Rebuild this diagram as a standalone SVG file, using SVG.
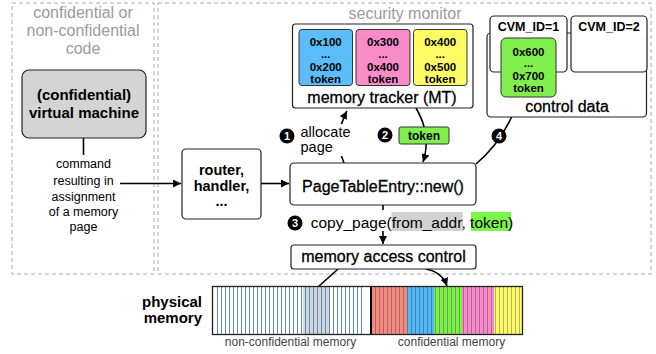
<svg xmlns="http://www.w3.org/2000/svg" width="656" height="354" viewBox="0 0 656 354">
<style>
text{font-family:"Liberation Sans",Arial,sans-serif;fill:#000}
.box{fill:#fff;stroke:#222;stroke-width:1.2}
.dash{fill:none;stroke:#aaa;stroke-width:1;stroke-dasharray:4 3}
.grayt{fill:#9a9a9a;font-size:16px}
.med{font-size:16px;stroke:#000;stroke-width:0.3}
.b{font-weight:bold}
.cell{stroke:#333;stroke-width:1}
.cellt{font-size:11.5px;font-weight:bold;text-anchor:middle}
.num{fill:#000}
.numt{fill:#fff;font-size:11px;font-weight:bold;text-anchor:middle}
.conn{fill:none;stroke:#000;stroke-width:1.6}
.arr{marker-end:url(#ah)}
.mid{text-anchor:middle}
.nstr{fill:none;stroke:#5a8ac6;stroke-width:1}
.cstr{fill:none;stroke:#000;stroke-opacity:0.35;stroke-width:0.8}
</style>
<defs>
<marker id="ah" markerUnits="userSpaceOnUse" markerWidth="9" markerHeight="8" refX="8" refY="4" orient="auto">
<path d="M0,0 L8,4 L0,8 z" fill="#000"/>
</marker>
</defs>
<rect width="656" height="354" fill="#fff"/>

<g id="zones">
<rect class="dash" x="12" y="3" width="142" height="271"/>
<rect class="dash" x="158" y="3" width="493" height="271"/>
<text class="grayt mid" x="83" y="18">confidential or</text>
<text class="grayt mid" x="83" y="36">non-confidential</text>
<text class="grayt mid" x="83" y="54">code</text>
<text class="grayt mid" x="405" y="19" font-size="16.5">security monitor</text>
</g>

<g id="connectors">
<path class="conn" d="M83.5,138 V155"/>
<path class="conn arr" d="M120,183.5 H181"/>
<path class="conn arr" d="M261,183.5 H289"/>
<path class="conn arr" d="M344,163 Q333,137 347,111"/>
<path class="conn arr" d="M416,108 Q432,135 423,162"/>
<path class="conn arr" d="M476,164 Q505,140 520,97"/>
<path class="conn arr" d="M383,205 V244"/>
<path class="conn" d="M338,269 L318,287"/>
<path class="conn arr" d="M426,269 Q442,272 447,286"/>
</g>

<g id="vm">
<rect x="22" y="70" width="124" height="68" rx="7" fill="#d4d4d4" stroke="#222" stroke-width="1.2"/>
<text class="b mid" x="84" y="100" font-size="15">(confidential)</text>
<text class="b mid" x="84" y="118" font-size="15">virtual machine</text>
</g>

<g id="command-label">
<text class="mid" x="83.5" y="168" font-size="12.5">command</text>
<text class="mid" x="83.5" y="185" font-size="12.5">resulting in</text>
<text class="mid" x="83.5" y="201" font-size="12.5">assignment</text>
<text class="mid" x="83.5" y="216" font-size="12.5">of a memory</text>
<text class="mid" x="83.5" y="231" font-size="12.5">page</text>
</g>

<g id="router">
<rect class="box" x="182" y="149" width="79" height="70" rx="4"/>
<text class="b mid" x="221.5" y="175" font-size="14.5">router,</text>
<text class="b mid" x="221.5" y="191" font-size="14.5">handler,</text>
<text class="b mid" x="221.5" y="206" font-size="14.5">...</text>
</g>

<g id="pte">
<rect class="box" x="290" y="163" width="186" height="42" rx="4"/>
<text class="med mid" x="383" y="192">PageTableEntry::new()</text>
</g>

<g id="memory-tracker">
<rect class="box" x="292.5" y="24" width="180.5" height="84" rx="3"/>
<rect class="cell" x="299" y="29.5" width="53.5" height="56" rx="3" fill="#5bbdf9"/>
<rect class="cell" x="356" y="29.5" width="54" height="56" rx="3" fill="#f98bc8"/>
<rect class="cell" x="413.5" y="29.5" width="53.5" height="56" rx="3" fill="#fffb66"/>
<text class="cellt" x="325.7" y="46">0x100</text>
<text class="cellt" x="325.7" y="57.5">...</text>
<text class="cellt" x="325.7" y="71">0x200</text>
<text class="cellt" x="325.7" y="83">token</text>
<text class="cellt" x="383" y="46">0x300</text>
<text class="cellt" x="383" y="57.5">...</text>
<text class="cellt" x="383" y="71">0x400</text>
<text class="cellt" x="383" y="83">token</text>
<text class="cellt" x="440.2" y="46">0x400</text>
<text class="cellt" x="440.2" y="57.5">...</text>
<text class="cellt" x="440.2" y="71">0x500</text>
<text class="cellt" x="440.2" y="83">token</text>
<text class="med mid" x="382" y="103">memory tracker (MT)</text>
</g>

<g id="control-data">
<rect class="box" x="487" y="33" width="159.5" height="84" rx="4"/>
<rect class="box" x="490" y="16" width="77" height="56" rx="4"/>
<rect class="box" x="571" y="16" width="76" height="56" rx="4"/>
<text class="b mid" x="528.5" y="30.5" font-size="12.5">CVM_ID=1</text>
<text class="b mid" x="609" y="30.5" font-size="12.5">CVM_ID=2</text>
<rect class="cell" x="501" y="38" width="55" height="59" rx="5" fill="#80ef4d"/>
<text class="cellt" x="528.5" y="56">0x600</text>
<text class="cellt" x="528.5" y="67">...</text>
<text class="cellt" x="528.5" y="79.5">0x700</text>
<text class="cellt" x="528.5" y="91.5">token</text>
<text class="med mid" x="567" y="112">control data</text>
</g>

<g id="step1">
<rect x="299" y="124" width="58" height="32" fill="#fff"/>
<circle class="num" cx="287" cy="136" r="7.5"/>
<text class="numt" x="287" y="140">1</text>
<text x="300.5" y="137" font-size="14.5">allocate</text>
<text x="300.5" y="152" font-size="14.5">page</text>
</g>

<g id="step2">
<circle class="num" cx="385" cy="135" r="7.5"/>
<text class="numt" x="385" y="139">2</text>
<rect class="cell" x="399" y="127" width="50" height="17" rx="2" fill="#80ef4d"/>
<text class="b mid" x="424" y="140" font-size="12">token</text>
</g>

<g id="step4">
<circle class="num" cx="499" cy="136" r="7.5"/>
<text class="numt" x="499" y="140">4</text>
</g>

<g id="step3">
<rect x="306" y="210" width="214" height="21" fill="#fff"/>
<rect x="391.5" y="212" width="71.5" height="19" fill="#d2d2d2"/>
<rect x="471" y="212" width="40" height="19" fill="#7cf54c"/>
<circle class="num" cx="295" cy="223" r="7.5"/>
<text class="numt" x="295" y="227">3</text>
<text x="310.7" y="227.5" font-size="15.5">copy_page(from_addr, token)</text>
</g>

<g id="memory-access-control">
<rect class="box" x="291" y="245" width="185" height="24" rx="3"/>
<text class="med mid" x="383.5" y="262">memory access control</text>
</g>

<g id="physical-memory">
<text class="b" x="202" y="307" font-size="15" text-anchor="end">physical</text>
<text class="b" x="202" y="323" font-size="15" text-anchor="end">memory</text>
<rect x="213" y="287" width="157" height="47" fill="#fff"/>
<rect x="303" y="287" width="27" height="47" fill="#d3d3d3"/>
<path class="nstr" d="M217.5 287V334M221.5 287V334M225.5 287V334M229.5 287V334M233.5 287V334M237.5 287V334M241.5 287V334M245.5 287V334M249.5 287V334M253.5 287V334M257.5 287V334M261.5 287V334M265.5 287V334M269.5 287V334M273.5 287V334M277.5 287V334M281.5 287V334M285.5 287V334M289.5 287V334M293.5 287V334M297.5 287V334M301.5 287V334M305.5 287V334M309.5 287V334M313.5 287V334M317.5 287V334M321.5 287V334M325.5 287V334M329.5 287V334M333.5 287V334M337.5 287V334M341.5 287V334M345.5 287V334M349.5 287V334M353.5 287V334M357.5 287V334M361.5 287V334"/>
<rect x="372" y="287" width="35" height="47" fill="#f48b82"/>
<rect x="407" y="287" width="27" height="47" fill="#52b9f7"/>
<rect x="434" y="287" width="28" height="47" fill="#80ee4c"/>
<rect x="462" y="287" width="32" height="47" fill="#f78bcb"/>
<rect x="494" y="287" width="28" height="47" fill="#fdfb6b"/>
<path class="cstr" d="M375.5 287V334M379.5 287V334M383.5 287V334M387.5 287V334M391.5 287V334M395.5 287V334M399.5 287V334M403.5 287V334M407.5 287V334M411.5 287V334M415.5 287V334M419.5 287V334M423.5 287V334M427.5 287V334M431.5 287V334M435.5 287V334M439.5 287V334M443.5 287V334M447.5 287V334M451.5 287V334M455.5 287V334M459.5 287V334M463.5 287V334M467.5 287V334M471.5 287V334M475.5 287V334M479.5 287V334M483.5 287V334M487.5 287V334M491.5 287V334M495.5 287V334M499.5 287V334M503.5 287V334M507.5 287V334M511.5 287V334M515.5 287V334M519.5 287V334"/>
<line x1="371" y1="287" x2="371" y2="334" stroke="#000" stroke-width="2"/>
<rect x="212.5" y="286.5" width="310" height="48" fill="none" stroke="#222" stroke-width="1.3"/>
<text class="mid" x="290.5" y="346" font-size="12" style="fill:#444">non-confidential memory</text>
<text class="mid" x="451.5" y="346" font-size="12" style="fill:#444">confidential memory</text>
</g>
</svg>
